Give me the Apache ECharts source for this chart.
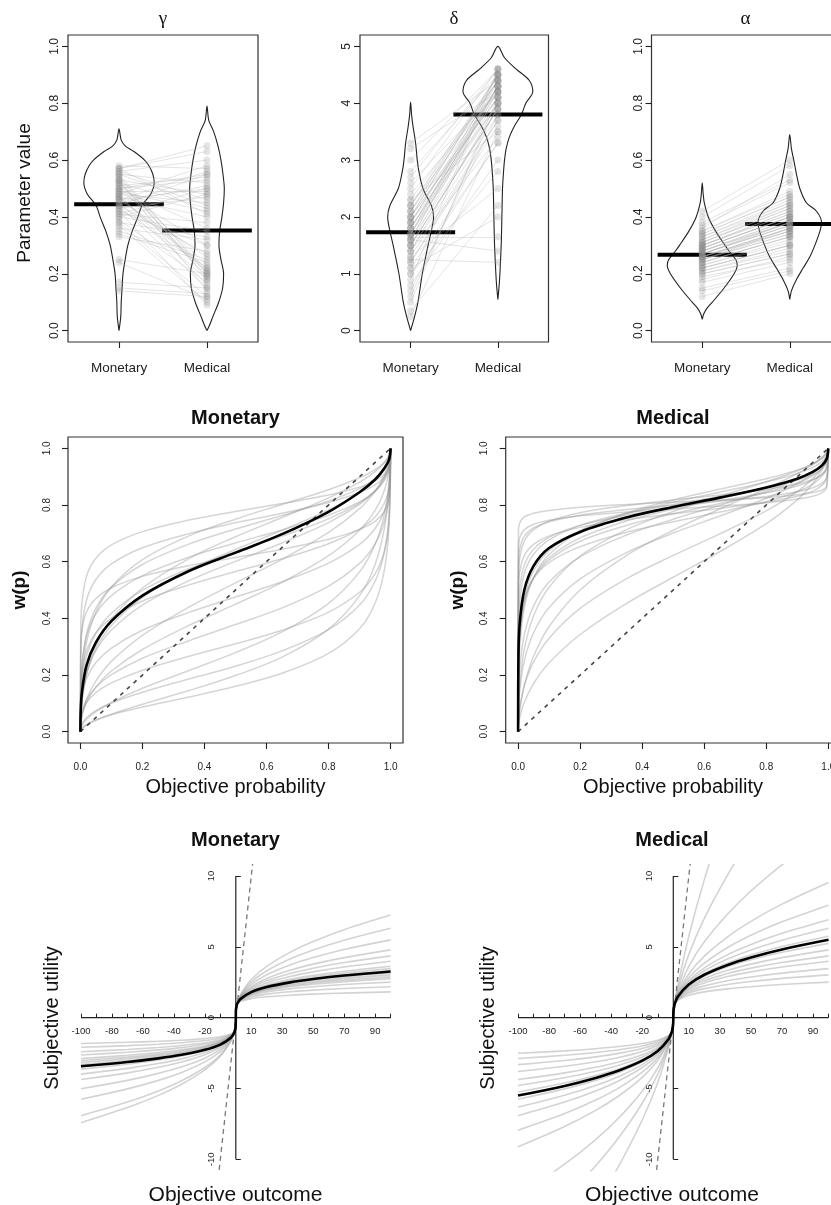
<!DOCTYPE html>
<html><head><meta charset="utf-8">
<script src="https://cdn.jsdelivr.net/npm/echarts@6/dist/echarts.min.js"></script>
<style>html,body{margin:0;padding:0;background:#fff}#c{width:831px;height:1205px}</style>
</head><body><div id="c"></div>
<script>
// ---------------- DATA ----------------
const conditions = ['Monetary', 'Medical'];
const catPos = [1, 2];

// Row 1: individual parameter estimates (dots / paired lines)
const gammaMon = [0.55,0.52,0.48,0.57,0.45,0.50,0.42,0.38,0.53,0.47,0.35,0.56,0.44,0.49,0.40,0.58,0.51,0.46,0.33,0.54,0.43,0.37,0.50,0.48,0.15,0.55,0.41,0.52,0.46,0.39,0.57,0.44,0.36,0.53,0.49,0.25,0.47,0.51,0.42,0.56,0.34,0.45,0.54,0.17,0.50,0.43,0.48,0.38,0.55,0.52,0.46,0.40,0.24,0.53,0.44,0.49,0.14,0.57,0.47,0.41];
const gammaMed = [0.52,0.20,0.45,0.63,0.18,0.55,0.30,0.12,0.48,0.22,0.25,0.60,0.15,0.42,0.35,0.57,0.19,0.50,0.28,0.21,0.47,0.10,0.53,0.16,0.13,0.44,0.38,0.23,0.56,0.17,0.65,0.27,0.32,0.14,0.49,0.20,0.40,0.54,0.09,0.46,0.24,0.51,0.18,0.15,0.36,0.22,0.58,0.33,0.20,0.43,0.26,0.48,0.11,0.19,0.55,0.30,0.12,0.41,0.21,0.50];
const deltaMon = [1.8,2.1,1.5,0.9,2.3,1.7,0.35,2.8,1.9,1.4,0.6,2.0,1.6,3.2,1.1,2.2,0.5,1.25,1.3,2.5,1.7,1.9,1.0,2.1,1.5,0.8,2.4,1.6,2.0,1.2,3.0,1.8,1.65,1.4,2.2,1.7,2.6,1.3,1.9,0.7,2.1,1.5,1.1,2.0,1.8,0.25,1.6,2.3,1.4,2.7,1.9,1.2,2.0,1.7,1.0,2.2,1.5,3.3,1.8,1.6];
const deltaMed = [4.2,4.4,3.9,4.6,3.5,4.1,2.2,4.5,4.3,3.8,4.0,4.5,1.4,4.2,3.3,4.4,4.1,1.2,3.7,4.6,4.3,4.0,2.8,4.5,3.9,3.0,4.2,4.4,4.1,3.6,4.6,4.3,1.65,3.4,4.5,4.0,4.2,2.5,4.4,3.8,4.1,4.3,2.0,4.5,4.2,3.5,3.9,4.4,4.0,4.6,4.3,3.7,4.1,4.5,3.3,4.2,3.9,4.4,4.0,4.3];
const alphaMon = [0.25,0.30,0.22,0.35,0.28,0.18,0.32,0.26,0.40,0.24,0.29,0.21,0.33,0.27,0.15,0.31,0.26,0.37,0.23,0.28,0.20,0.34,0.27,0.30,0.12,0.25,0.29,0.22,0.36,0.26,0.31,0.19,0.28,0.24,0.42,0.27,0.23,0.33,0.17,0.29,0.26,0.30,0.21,0.35,0.25,0.28,0.14,0.32,0.24,0.27,0.30,0.22,0.38,0.26,0.29,0.20,0.31,0.25,0.34,0.27];
const alphaMed = [0.36,0.42,0.30,0.48,0.38,0.26,0.45,0.35,0.58,0.33,0.40,0.29,0.46,0.37,0.22,0.43,0.36,0.52,0.31,0.39,0.27,0.47,0.38,0.41,0.20,0.35,0.40,0.30,0.55,0.36,0.44,0.25,0.39,0.33,0.60,0.37,0.32,0.45,0.24,0.40,0.36,0.42,0.28,0.49,0.34,0.38,0.21,0.44,0.33,0.37,0.41,0.30,0.53,0.35,0.40,0.27,0.43,0.34,0.47,0.38];
const gammaMean = [0.445, 0.352];
const deltaMean = [1.73, 3.80];
const alphaMean = [0.267, 0.375];

// violin outlines: value levels and half widths (category units)
const vGammaMonY = [0,0.05,0.10,0.15,0.20,0.25,0.30,0.35,0.40,0.44,0.48,0.52,0.55,0.58,0.60,0.63,0.65,0.67,0.71];
const vGammaMonW = [0,0.02,0.025,0.035,0.045,0.07,0.10,0.15,0.215,0.26,0.36,0.40,0.385,0.34,0.29,0.17,0.07,0.025,0];
const vGammaMedY = [0,0.02,0.05,0.10,0.15,0.20,0.25,0.30,0.35,0.40,0.45,0.50,0.55,0.60,0.65,0.70,0.74,0.79];
const vGammaMedW = [0,0.03,0.068,0.133,0.178,0.189,0.159,0.136,0.144,0.17,0.189,0.197,0.182,0.159,0.125,0.076,0.02,0];
const vDeltaMonY = [0,0.25,0.5,1.0,1.5,1.75,2.0,2.2,2.5,2.8,3.0,3.3,3.6,3.8,4.02];
const vDeltaMonW = [0,0.046,0.084,0.134,0.2,0.237,0.263,0.237,0.141,0.095,0.076,0.057,0.027,0.011,0];
const vDeltaMedY = [0.55,0.8,1.0,1.5,2.0,2.5,2.8,3.0,3.2,3.4,3.6,3.8,4.0,4.2,4.4,4.6,4.8,5.0];
const vDeltaMedW = [0,0.015,0.023,0.038,0.046,0.053,0.065,0.076,0.095,0.13,0.19,0.27,0.32,0.40,0.36,0.21,0.076,0];
const vAlphaMonY = [0.04,0.06,0.08,0.10,0.15,0.20,0.23,0.25,0.28,0.30,0.35,0.40,0.45,0.48,0.52];
const vAlphaMonW = [0,0.019,0.057,0.115,0.25,0.364,0.40,0.383,0.306,0.26,0.153,0.069,0.023,0.011,0];
const vAlphaMedY = [0.11,0.14,0.18,0.22,0.26,0.30,0.35,0.38,0.42,0.45,0.50,0.55,0.60,0.64,0.69];
const vAlphaMedW = [0,0.019,0.077,0.153,0.23,0.287,0.345,0.364,0.306,0.19,0.115,0.077,0.046,0.019,0];
const ticks01 = [0,0.2,0.4,0.6,0.8,1.0];
const ticks05 = [0,1,2,3,4,5];

// Row 2: probability weighting curves
const probGrid = [0,0.001,0.005,0.02,0.05,0.1,0.2,0.35,0.5,0.65,0.8,0.9,0.95,0.98,0.995,1];
const wMonCurves = [
 [0,0.006,0.013,0.026,0.042,0.06,0.087,0.122,0.16,0.206,0.276,0.363,0.453,0.571,0.728,1],
 [0,0.013,0.027,0.05,0.074,0.101,0.139,0.186,0.231,0.285,0.36,0.447,0.531,0.634,0.765,1],
 [0,0.009,0.021,0.044,0.071,0.103,0.153,0.216,0.279,0.352,0.453,0.564,0.661,0.767,0.877,1],
 [0,0.037,0.068,0.113,0.157,0.201,0.259,0.321,0.378,0.437,0.514,0.594,0.663,0.742,0.834,1],
 [0,0.025,0.055,0.104,0.158,0.214,0.29,0.375,0.45,0.527,0.621,0.711,0.781,0.851,0.92,1],
 [0,0.075,0.125,0.188,0.244,0.295,0.358,0.421,0.475,0.529,0.595,0.661,0.717,0.779,0.852,1],
 [0,0.024,0.057,0.115,0.179,0.248,0.34,0.44,0.525,0.608,0.703,0.787,0.848,0.904,0.953,1],
 [0,0.141,0.209,0.287,0.349,0.401,0.461,0.518,0.565,0.61,0.663,0.715,0.758,0.807,0.864,1],
 [0,0.063,0.122,0.207,0.286,0.359,0.447,0.533,0.601,0.666,0.738,0.802,0.85,0.897,0.942,1],
 [0,0.054,0.113,0.204,0.293,0.375,0.474,0.57,0.643,0.711,0.783,0.844,0.887,0.927,0.962,1],
 [0,0.151,0.238,0.338,0.416,0.48,0.551,0.616,0.666,0.712,0.764,0.811,0.848,0.886,0.927,1],
 [0,0.047,0.107,0.206,0.304,0.397,0.507,0.611,0.688,0.756,0.825,0.881,0.918,0.949,0.976,1],
 [0,0.137,0.232,0.346,0.436,0.51,0.59,0.662,0.715,0.763,0.814,0.858,0.891,0.922,0.954,1],
 [0,0.261,0.364,0.466,0.537,0.592,0.649,0.699,0.737,0.771,0.809,0.844,0.871,0.9,0.932,1],
 [0,0.098,0.191,0.317,0.422,0.511,0.607,0.691,0.75,0.802,0.854,0.896,0.925,0.951,0.974,1],
 [0,0.351,0.455,0.55,0.612,0.659,0.706,0.747,0.777,0.805,0.835,0.863,0.885,0.909,0.936,1],
 [0,0.287,0.357,0.424,0.47,0.508,0.548,0.586,0.615,0.644,0.679,0.713,0.742,0.777,0.822,1],
 [0,0.099,0.173,0.268,0.348,0.418,0.499,0.575,0.634,0.69,0.751,0.807,0.849,0.892,0.935,1],
 [0,0.004,0.01,0.023,0.04,0.062,0.097,0.145,0.198,0.263,0.362,0.48,0.59,0.718,0.855,1],
 [0,0.039,0.066,0.103,0.138,0.172,0.217,0.266,0.31,0.358,0.422,0.492,0.557,0.637,0.741,1]
];
const wMonMean = [0,0.07,0.14,0.235,0.315,0.39,0.48,0.567,0.632,0.697,0.776,0.845,0.89,0.93,0.96,1];
const wMedCurves = [
 [0,0.019,0.048,0.104,0.17,0.243,0.343,0.453,0.545,0.635,0.734,0.818,0.875,0.925,0.966,1],
 [0,0.036,0.082,0.162,0.246,0.33,0.435,0.54,0.622,0.698,0.779,0.847,0.893,0.933,0.968,1],
 [0,0.069,0.142,0.25,0.349,0.438,0.539,0.632,0.701,0.761,0.824,0.875,0.911,0.942,0.971,1],
 [0,0.073,0.16,0.291,0.409,0.51,0.62,0.713,0.777,0.831,0.882,0.921,0.946,0.967,0.985,1],
 [0,0.118,0.217,0.343,0.444,0.528,0.617,0.694,0.75,0.799,0.849,0.89,0.919,0.945,0.97,1],
 [0,0.212,0.339,0.473,0.568,0.639,0.71,0.769,0.81,0.845,0.881,0.911,0.933,0.953,0.973,1],
 [0,0.228,0.342,0.46,0.542,0.606,0.672,0.728,0.769,0.805,0.844,0.878,0.903,0.928,0.955,1],
 [0,0.338,0.453,0.558,0.626,0.677,0.728,0.771,0.802,0.83,0.86,0.887,0.907,0.929,0.952,1],
 [0,0.402,0.502,0.588,0.644,0.686,0.728,0.764,0.791,0.815,0.843,0.867,0.888,0.909,0.934,1],
 [0,0.53,0.609,0.673,0.713,0.743,0.773,0.798,0.818,0.835,0.855,0.874,0.89,0.907,0.928,1],
 [0,0.585,0.642,0.689,0.719,0.741,0.764,0.784,0.799,0.814,0.83,0.847,0.861,0.877,0.898,1],
 [0,0.648,0.684,0.713,0.732,0.746,0.762,0.775,0.786,0.796,0.808,0.821,0.831,0.844,0.862,1],
 [0,0.167,0.293,0.438,0.544,0.625,0.706,0.772,0.818,0.856,0.893,0.923,0.944,0.963,0.98,1],
 [0,0.265,0.369,0.471,0.542,0.597,0.653,0.704,0.741,0.775,0.812,0.847,0.874,0.902,0.933,1],
 [0,0.489,0.561,0.622,0.661,0.691,0.721,0.748,0.769,0.788,0.81,0.831,0.849,0.87,0.896,1],
 [0,0.21,0.329,0.455,0.545,0.614,0.684,0.744,0.786,0.823,0.861,0.894,0.918,0.942,0.965,1],
 [0,0.71,0.736,0.758,0.771,0.781,0.792,0.802,0.81,0.818,0.826,0.836,0.844,0.853,0.867,1],
 [0,0.027,0.073,0.164,0.266,0.371,0.5,0.622,0.711,0.786,0.858,0.911,0.943,0.969,0.987,1]
];
const wMedMean = [0,0.26,0.38,0.5,0.585,0.648,0.705,0.756,0.793,0.826,0.862,0.893,0.917,0.94,0.963,1];
const probTicks = [0,0.2,0.4,0.6,0.8,1.0];
const identityProb = [0, 1];

// Row 3: utility curves
const outcomeGrid = [-100,-70,-50,-35,-20,-10,-3,-1,-0.3,-0.05,0,0.05,0.3,1,3,10,20,35,50,70,100];
const uMonCurves = [
 [-2.089,-1.974,-1.870,-1.766,-1.615,-1.445,-1.192,-1,-0.825,-0.619,0,0.678,0.855,1,1.154,1.349,1.476,1.587,1.663,1.737,1.820],
 [-1.820,-1.737,-1.663,-1.587,-1.476,-1.349,-1.154,-1,-0.855,-0.678,0,0.601,0.815,1,1.206,1.479,1.664,1.830,1.945,2.059,2.188],
 [-2.399,-2.241,-2.103,-1.965,-1.767,-1.549,-1.232,-1,-0.795,-0.566,0,0.549,0.786,1,1.246,1.585,1.821,2.036,2.187,2.339,2.512],
 [-2.884,-2.656,-2.459,-2.265,-1.992,-1.699,-1.288,-1,-0.758,-0.502,0,0.517,0.767,1,1.273,1.660,1.933,2.186,2.365,2.547,2.754],
 [-2.630,-2.440,-2.274,-2.110,-1.876,-1.622,-1.259,-1,-0.777,-0.533,0,0.487,0.749,1,1.302,1.738,2.052,2.347,2.557,2.773,3.020],
 [-3.630,-3.284,-2.990,-2.705,-2.314,-1.906,-1.360,-1,-0.714,-0.432,0,0.473,0.740,1,1.316,1.778,2.115,2.433,2.659,2.892,3.162],
 [-3.162,-2.892,-2.659,-2.433,-2.115,-1.778,-1.316,-1,-0.740,-0.473,0,0.445,0.722,1,1.346,1.862,2.246,2.612,2.875,3.149,3.466],
 [-3.981,-3.576,-3.235,-2.905,-2.457,-1.996,-1.391,-1,-0.697,-0.407,0,0.432,0.714,1,1.360,1.906,2.314,2.705,2.990,3.284,3.630],
 [-3.311,-3.017,-2.765,-2.519,-2.179,-1.820,-1.331,-1,-0.731,-0.459,0,0.407,0.697,1,1.391,1.996,2.457,2.905,3.235,3.576,3.981],
 [-5.012,-4.424,-3.931,-3.470,-2.855,-2.239,-1.469,-1,-0.656,-0.350,0,0.383,0.680,1,1.422,2.090,2.609,3.121,3.497,3.893,4.366],
 [-4.366,-3.893,-3.497,-3.121,-2.609,-2.090,-1.422,-1,-0.680,-0.383,0,0.361,0.664,1,1.453,2.188,2.770,3.350,3.781,4.238,4.787],
 [-5.754,-5.023,-4.424,-3.861,-3.121,-2.399,-1.519,-1,-0.633,-0.320,0,0.330,0.641,1,1.502,2.344,3.031,3.725,4.250,4.816,5.496],
 [-6.917,-5.954,-5.171,-4.451,-3.518,-2.630,-1.587,-1,-0.603,-0.284,0,0.302,0.618,1,1.553,2.512,3.314,4.145,4.783,5.468,6.310],
 [-7.412,-6.347,-5.484,-4.693,-3.681,-2.724,-1.613,-1,-0.592,-0.272,0,0.276,0.596,1,1.605,2.691,3.626,4.613,5.376,6.215,7.243],
 [-3.466,-3.149,-2.875,-2.612,-2.246,-1.862,-1.346,-1,-0.722,-0.445,0,0.502,0.758,1,1.288,1.699,1.992,2.265,2.459,2.656,2.884],
 [-3.020,-2.773,-2.557,-2.347,-2.052,-1.738,-1.302,-1,-0.749,-0.487,0,0.459,0.731,1,1.331,1.820,2.179,2.519,2.765,3.017,3.311]
];
const uMonMean = [-3.43,-3.129,-2.869,-2.619,-2.268,-1.897,-1.392,-1.05,-0.771,-0.486,0,0.463,0.734,1.001,1.326,1.807,2.160,2.494,2.732,2.980,3.266];
const uMedCurves = [
 [-12.59,-10.34,-8.601,-7.064,-5.196,-3.549,-1.830,-1,-0.516,-0.192,0,0.103,0.400,1,2.305,5.754,9.747,14.91,19.55,25.2,33.1],
 [-20.89,-16.51,-13.22,-10.44,-7.222,-4.572,-2.065,-1,-0.452,-0.138,0,0.143,0.457,1,2.042,4.468,7.008,10.08,12.72,15.82,19.95],
 [-15.85,-12.79,-10.45,-8.440,-6.037,-3.983,-1.933,-1,-0.486,-0.166,0,0.187,0.510,1,1.850,3.631,5.354,7.321,8.944,10.79,13.18],
 [-9.116,-7.684,-6.540,-5.508,-4.212,-3.020,-1.695,-1,-0.561,-0.237,0,0.230,0.554,1,1.714,3.090,4.341,5.709,6.800,8.019,9.545],
 [-6.310,-5.468,-4.783,-4.145,-3.314,-2.512,-1.553,-1,-0.618,-0.302,0,0.260,0.582,1,1.640,2.818,3.850,4.953,5.814,6.766,7.943],
 [-7.943,-6.766,-5.814,-4.953,-3.850,-2.818,-1.640,-1,-0.582,-0.260,0,0.284,0.603,1,1.587,2.630,3.518,4.451,5.171,5.954,6.917],
 [-5.248,-4.614,-4.088,-3.597,-2.942,-2.291,-1.486,-1,-0.649,-0.340,0,0.302,0.618,1,1.553,2.512,3.314,4.145,4.783,5.468,6.310],
 [-6.917,-5.954,-5.171,-4.451,-3.518,-2.630,-1.587,-1,-0.603,-0.284,0,0.320,0.633,1,1.519,2.399,3.121,3.861,4.424,5.023,5.754],
 [-5.754,-5.023,-4.424,-3.861,-3.121,-2.399,-1.519,-1,-0.633,-0.320,0,0.340,0.649,1,1.486,2.291,2.942,3.597,4.088,4.614,5.248],
 [-4.366,-3.893,-3.497,-3.121,-2.609,-2.090,-1.422,-1,-0.680,-0.383,0,0.361,0.664,1,1.453,2.188,2.770,3.350,3.781,4.238,4.787],
 [-4.787,-4.238,-3.781,-3.350,-2.770,-2.188,-1.453,-1,-0.664,-0.361,0,0.383,0.680,1,1.422,2.090,2.609,3.121,3.497,3.893,4.366],
 [-3.311,-3.017,-2.765,-2.519,-2.179,-1.820,-1.331,-1,-0.731,-0.459,0,0.407,0.697,1,1.391,1.996,2.457,2.905,3.235,3.576,3.981],
 [-3.800,-3.428,-3.108,-2.804,-2.385,-1.950,-1.376,-1,-0.705,-0.419,0,0.445,0.722,1,1.346,1.862,2.246,2.612,2.875,3.149,3.466],
 [-2.512,-2.339,-2.187,-2.036,-1.821,-1.585,-1.246,-1,-0.786,-0.549,0,0.487,0.749,1,1.302,1.738,2.052,2.347,2.557,2.773,3.020],
 [-2.884,-2.656,-2.459,-2.265,-1.992,-1.699,-1.288,-1,-0.758,-0.502,0,0.549,0.786,1,1.246,1.585,1.821,2.036,2.187,2.339,2.512]
];
const uMedMean = [-5.496,-4.816,-4.250,-3.725,-3.031,-2.344,-1.502,-1,-0.641,-0.330,0,0.330,0.641,1,1.502,2.344,3.031,3.725,4.250,4.816,5.496];
const outcomeTicks = [-100,-90,-80,-70,-60,-50,-40,-30,-20,-10,0,10,20,30,40,50,60,70,80,90,100];
const outcomeLabels = [-100,-80,-60,-40,-20,10,30,50,70,90];
const utilityTicks = [-10,-5,0,5,10];
const outcomeSpan = [-100, 100];
const utilitySpan = [-10, 10];
const identityUtil = [-12, 12];

// ---------------- BUILD ----------------
const SANS = '"Liberation Sans", Arial, Helvetica, sans-serif';
const SERIF = '"Liberation Serif", "Times New Roman", serif';
const MEAN_HALF = 0.51;
const grid = [], xAxis = [], yAxis = [], series = [], graphic = [];

function addGrid(left, top, width, height, box) {
  grid.push({left, top, width, height, show: box, borderColor: '#333', borderWidth: 1.2,
    backgroundColor: 'rgba(0,0,0,0)', containLabel: false, outerBoundsMode: 'none'});
  return grid.length - 1;
}
function boxAxis(list, gi, min, max, ticks, fmt, o) {
  list.push({
    gridIndex: gi, type: 'value', min, max,
    axisLine: {show: false, onZero: false},
    axisTick: {show: true, inside: false, length: 6, customValues: ticks, lineStyle: {color: '#222', width: 1.1}},
    axisLabel: {show: true, customValues: ticks, formatter: fmt, color: '#222', fontFamily: SANS,
      fontSize: o.fontSize, margin: o.margin, rotate: o.rotate || 0},
    splitLine: {show: false}
  });
  return list.length - 1;
}
function line(xi, yi, data, style, extra) {
  series.push(Object.assign({type: 'line', xAxisIndex: xi, yAxisIndex: yi, data,
    symbol: 'none', showSymbol: false, silent: true, animation: false, clip: true, lineStyle: style}, extra || {}));
}
function text(x, y, str, font, rot) {
  graphic.push({type: 'text', x, y, rotation: rot || 0, silent: true,
    style: {text: str, font, fill: '#111', align: 'center', verticalAlign: 'middle', textAlign: 'center', textVerticalAlign: 'middle'}});
}
function violinPts(c, ys, ws) {
  const pts = [];
  for (let i = 0; i < ys.length; i++) pts.push([c + ws[i], ys[i]]);
  for (let i = ys.length - 1; i >= 0; i--) pts.push([c - ws[i], ys[i]]);
  return pts;
}

function violinPanel(box, yMin, yMax, ticks, fmt, mon, med, means, vio) {
  const gi = addGrid(box[0], box[1], box[2], box[3], true);
  const xi = boxAxis(xAxis, gi, 0.42, 2.58, catPos, v => conditions[Math.round(v) - 1], {fontSize: 13.5, margin: 19});
  const yi = boxAxis(yAxis, gi, yMin, yMax, ticks, fmt, {fontSize: 12, margin: 7, rotate: 90});
  line(xi, yi, violinPts(catPos[0], vio[0], vio[1]), {color: '#222', width: 1.1}, {smooth: 0.3, z: 2});
  line(xi, yi, violinPts(catPos[1], vio[2], vio[3]), {color: '#222', width: 1.1}, {smooth: 0.3, z: 2});
  catPos.forEach((c, k) => line(xi, yi, [[c - MEAN_HALF, means[k]], [c + MEAN_HALF, means[k]]], {color: '#000', width: 4}, {z: 3}));
  series.push({type: 'lines', coordinateSystem: 'cartesian2d', xAxisIndex: xi, yAxisIndex: yi, silent: true, animation: false, z: 4,
    data: mon.map((v, i) => ({coords: [[catPos[0], v], [catPos[1], med[i]]]})),
    lineStyle: {color: 'rgb(170,170,170)', width: 1, opacity: 0.32, curveness: 0}});
  series.push({type: 'scatter', xAxisIndex: xi, yAxisIndex: yi, silent: true, animation: false, z: 5,
    data: mon.map(v => [catPos[0], v]).concat(med.map(v => [catPos[1], v])),
    symbolSize: 7, itemStyle: {color: 'rgba(140,140,140,0.28)'}});
}

violinPanel([68, 35, 190, 307], -0.04, 1.04, ticks01, v => v.toFixed(1), gammaMon, gammaMed, gammaMean,
  [vGammaMonY, vGammaMonW, vGammaMedY, vGammaMedW]);
violinPanel([360, 35, 188.5, 307], -0.2, 5.2, ticks05, v => String(v), deltaMon, deltaMed, deltaMean,
  [vDeltaMonY, vDeltaMonW, vDeltaMedY, vDeltaMedW]);
violinPanel([651.5, 35, 189, 307], -0.04, 1.04, ticks01, v => v.toFixed(1), alphaMon, alphaMed, alphaMean,
  [vAlphaMonY, vAlphaMonW, vAlphaMedY, vAlphaMedW]);

function weightPanel(left, curves, mean) {
  const gi = addGrid(left, 437, 335, 306, true);
  const xi = boxAxis(xAxis, gi, -0.04, 1.04, probTicks, v => v.toFixed(1), {fontSize: 10, margin: 19});
  const yi = boxAxis(yAxis, gi, -0.04, 1.04, probTicks, v => v.toFixed(1), {fontSize: 10, margin: 16, rotate: 90});
  curves.forEach(c => line(xi, yi, probGrid.map((p, k) => [p, c[k]]), {color: 'rgba(150,150,150,0.4)', width: 1.5},
    {smooth: 0.35, z: 2}));
  line(xi, yi, identityProb.map(v => [v, v]), {color: '#444', width: 1.6, type: [4, 5]}, {z: 3});
  line(xi, yi, probGrid.map((p, k) => [p, mean[k]]), {color: '#000', width: 2.6}, {smooth: 0.35, z: 4});
}
weightPanel(68, wMonCurves, wMonMean);
weightPanel(505.7, wMedCurves, wMedMean);

function utilityPanel(left, width, curves, mean) {
  const top = 864.7, height = 306, xMin = -108, xMax = 108, yMin = -10.8, yMax = 10.8;
  const gi = addGrid(left, top, width, height, false);
  // place the axes through the origin
  const xOffset = -((0 - yMin) / (yMax - yMin)) * height;
  const yOffset = -((0 - xMin) / (xMax - xMin)) * width;
  xAxis.push({gridIndex: gi, type: 'value', min: xMin, max: xMax, position: 'bottom', offset: xOffset,
    axisLine: {show: false, onZero: false},
    axisTick: {show: true, inside: true, length: 4, customValues: outcomeTicks, lineStyle: {color: '#222', width: 1}},
    axisLabel: {show: true, customValues: outcomeLabels, color: '#222', fontFamily: SANS, fontSize: 9.5, margin: 9},
    splitLine: {show: false}});
  const xi = xAxis.length - 1;
  yAxis.push({gridIndex: gi, type: 'value', min: yMin, max: yMax, position: 'left', offset: yOffset,
    axisLine: {show: false, onZero: false},
    axisTick: {show: true, inside: true, length: 5, customValues: utilityTicks, lineStyle: {color: '#222', width: 1}},
    axisLabel: {show: true, customValues: utilityTicks, rotate: 90, color: '#222', fontFamily: SANS, fontSize: 9.5, margin: 19},
    splitLine: {show: false}});
  const yi = yAxis.length - 1;
  curves.forEach(c => line(xi, yi, outcomeGrid.map((x, k) => [x, c[k]]), {color: 'rgba(150,150,150,0.42)', width: 1.6},
    {smooth: 0.35, z: 2}));
  line(xi, yi, identityUtil.map(v => [v, v]), {color: '#777', width: 1.3, type: [5, 4]}, {z: 3});
  line(xi, yi, outcomeSpan.map(v => [v, 0]), {color: '#222', width: 1.2}, {z: 5});
  line(xi, yi, utilitySpan.map(v => [0, v]), {color: '#222', width: 1.2}, {z: 5});
  line(xi, yi, outcomeGrid.map((x, k) => [x, mean[k]]), {color: '#000', width: 2.6}, {smooth: 0.35, z: 6});
}
utilityPanel(68.6, 334.4, uMonCurves, uMonMean);
utilityPanel(505.6, 335.4, uMedCurves, uMedMean);

// texts
const R90 = Math.PI / 2;
text(163, 19, 'γ', '19px ' + SERIF);
text(454, 19, 'δ', '19px ' + SERIF);
text(745.5, 19, 'α', '19px ' + SERIF);
text(25, 193, 'Parameter value', '19px ' + SANS, R90);
text(235.5, 418, 'Monetary', 'bold 20px ' + SANS);
text(673, 418, 'Medical', 'bold 20px ' + SANS);
text(20, 590, 'w(p)', 'bold 19px ' + SANS, R90);
text(458, 590, 'w(p)', 'bold 19px ' + SANS, R90);
text(235.5, 787, 'Objective probability', '20px ' + SANS);
text(673, 787, 'Objective probability', '20px ' + SANS);
text(235.5, 840, 'Monetary', 'bold 20px ' + SANS);
text(672, 840, 'Medical', 'bold 20px ' + SANS);
text(52, 1018, 'Subjective utility', '20px ' + SANS, R90);
text(488, 1018, 'Subjective utility', '20px ' + SANS, R90);
text(235.5, 1195, 'Objective outcome', '21px ' + SANS);
text(672, 1195, 'Objective outcome', '21px ' + SANS);

const chart = echarts.init(document.getElementById('c'), null, {renderer: 'canvas', width: 831, height: 1205});
chart.setOption({animation: false, backgroundColor: '#fff', grid, xAxis, yAxis, series, graphic});
</script></body></html>
